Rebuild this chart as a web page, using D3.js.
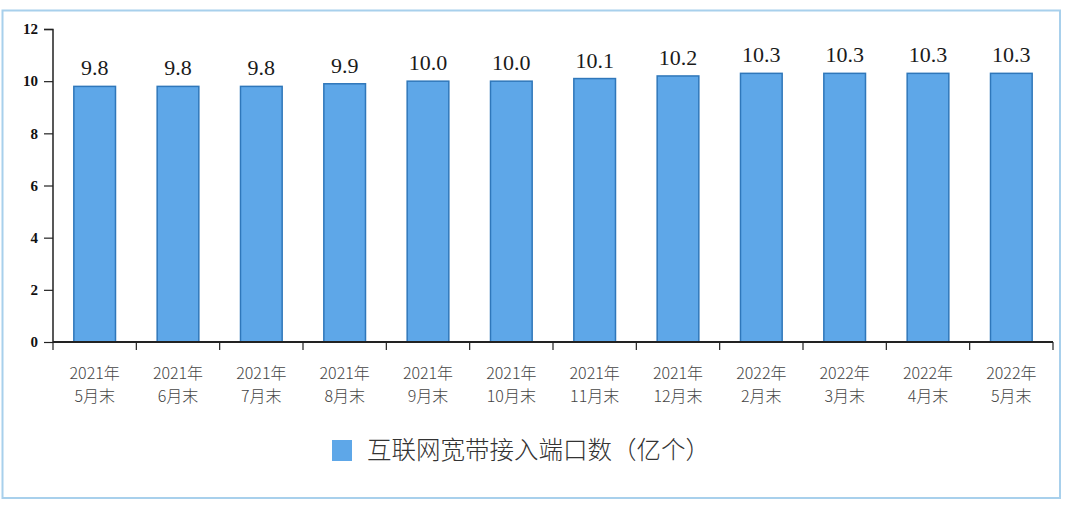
<!DOCTYPE html>
<html><head><meta charset="utf-8">
<script src="https://cdn.jsdelivr.net/npm/d3@7"></script>
<style>body{margin:0;background:#fff;}svg{display:block;}
.serif{font-family:"Liberation Serif","Times New Roman","DejaVu Serif",serif;}
.cjk{font-family:"Noto Sans CJK SC","Noto Sans",sans-serif;}
</style>
</head><body>
<svg id="c" width="1080" height="508"></svg>
<script>
const categories = ["2021年\n5月末","2021年\n6月末","2021年\n7月末","2021年\n8月末","2021年\n9月末","2021年\n10月末","2021年\n11月末","2021年\n12月末","2022年\n2月末","2022年\n3月末","2022年\n4月末","2022年\n5月末"];
const values = [9.8,9.8,9.8,9.9,10.0,10.0,10.1,10.2,10.3,10.3,10.3,10.3];
const yTicks = [0,2,4,6,8,10,12];
const seriesName = "互联网宽带接入端口数（亿个）";

const svg = d3.select("#c");
svg.append("rect").attr("x",2.5).attr("y",10.5).attr("width",1057.5).attr("height",487.5)
  .attr("fill","none").attr("stroke","#a8d0ec").attr("stroke-width",2);

const x = d3.scaleBand().domain(categories).range([53,1053]).paddingInner(0.5).paddingOuter(0.25);
const y = d3.scaleLinear().domain([0,12]).range([342,29]);

// bars
svg.selectAll("rect.bar").data(values).join("rect").attr("class","bar")
  .attr("x",(d,i)=>x(categories[i])).attr("width",x.bandwidth())
  .attr("y",d=>y(d)).attr("height",d=>y(0)-y(d))
  .attr("fill","#5ea7e8").attr("stroke","#2f77ba").attr("stroke-width",1.5);

// value labels
svg.selectAll("text.val").data(values).join("text").attr("class","val serif")
  .attr("x",(d,i)=>x(categories[i])+x.bandwidth()/2).attr("y",d=>y(d)-11)
  .attr("text-anchor","middle").attr("font-size",22)
  .attr("fill","#1a1a1a").text(d=>d.toFixed(1));

// y axis
const ya = svg.append("g").attr("transform","translate(53,0)")
  .call(d3.axisLeft(y).tickValues(yTicks).tickSize(9).tickPadding(6));
ya.select(".domain").attr("stroke","#222").attr("stroke-width",1.5).attr("d","M-9,29.5H0V342");
ya.selectAll(".tick line").attr("stroke","#222").attr("stroke-width",1.2);
ya.selectAll(".tick text").attr("class","serif").attr("font-family",null).attr("font-weight","bold")
  .attr("font-size",15).attr("fill","#111");

// x axis
const xa = svg.append("g").attr("transform","translate(0,342)");
xa.append("line").attr("x1",53).attr("x2",1053).attr("y1",0).attr("y2",0).attr("stroke","#222").attr("stroke-width",1.8);
const step = x.step();
const bounds = d3.range(categories.length+1);
xa.selectAll("line.t").data(bounds).join("line").attr("class","t")
  .attr("x1",i=>i===categories.length?1053:x(categories[i])-step*0.25)
  .attr("x2",i=>i===categories.length?1053:x(categories[i])-step*0.25)
  .attr("y1",0).attr("y2",8).attr("stroke","#222").attr("stroke-width",1.2);
const lab = xa.selectAll("text.xl").data(categories).join("text").attr("class","xl cjk")
  .attr("x",d=>x(d)+x.bandwidth()/2).attr("text-anchor","middle")
  .attr("font-size",16).attr("font-weight",300).attr("fill","#444");
lab.selectAll("tspan").data(d=>d.split("\n")).join("tspan")
  .attr("x",function(){return this.parentNode.getAttribute("x");})
  .attr("y",(d,i)=>37+i*23).text(d=>d);

// legend
svg.append("rect").attr("x",332).attr("y",440).attr("width",20).attr("height",21)
  .attr("fill","#5ea7e8");
svg.append("text").attr("class","cjk").attr("x",367).attr("y",459)
  .attr("font-size",24.5).attr("font-weight",300).attr("fill","#333").text(seriesName);
</script>
</body></html>
